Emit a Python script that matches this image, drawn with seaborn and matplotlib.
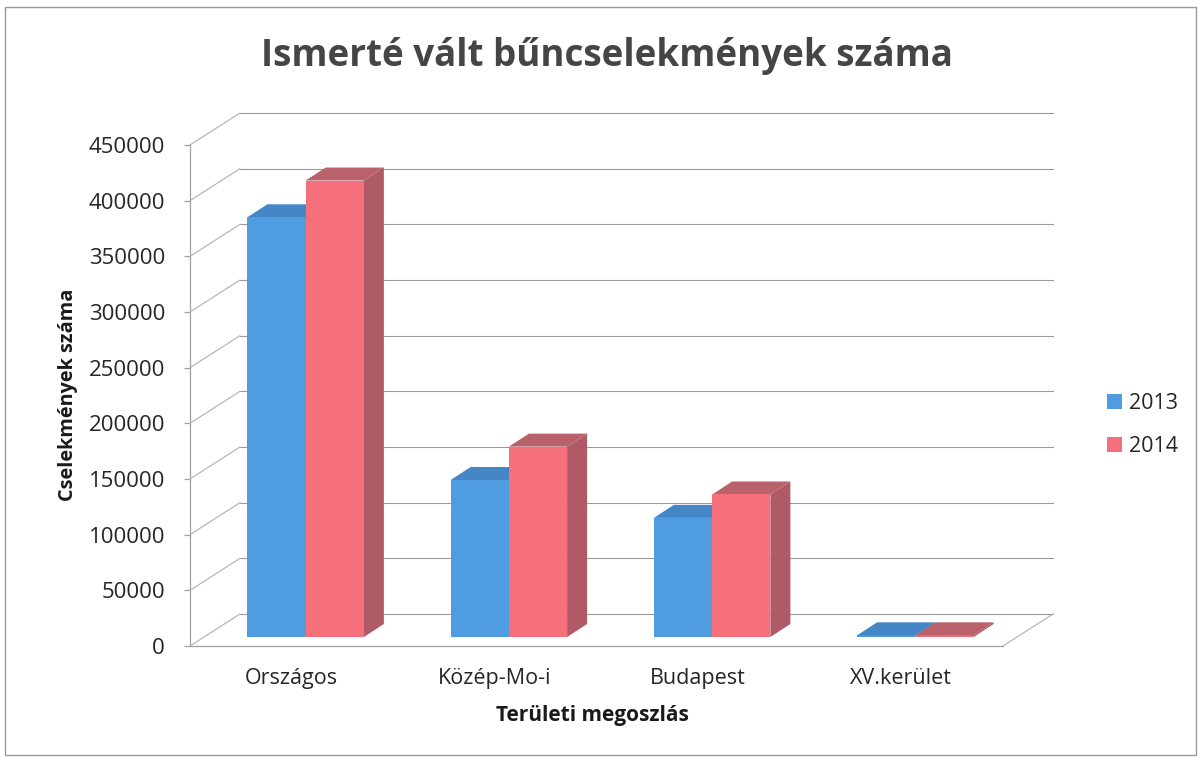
#!/usr/bin/env python

import pandas as pd
import seaborn as sns
import matplotlib.pyplot as plt
from matplotlib.patches import Polygon, Rectangle
from matplotlib.transforms import Affine2D

categories = ['Országos', 'Közép-Mo-i', 'Budapest', 'XV.kerület']
values_2013 = [377000, 141000, 107000, 1500]
values_2014 = [410000, 171000, 128000, 1500]
y_ticks = [0, 50000, 100000, 150000, 200000, 250000, 300000, 350000, 400000, 450000]

W, H = 1202, 758

sns.set_style('white')
plt.rcParams['font.family'] = ['Open Sans', 'DejaVu Sans']

data = pd.DataFrame({
    'terulet': categories * 2,
    'ev': ['2013'] * 4 + ['2014'] * 4,
    'db': values_2013 + values_2014,
})

fig = plt.figure(figsize=(W / 100, H / 100), dpi=100)
ax = fig.add_axes([190 / W, 1 - 646 / H, (1003 - 190) / W, (646 - 145) / H])

sns.barplot(data=data, x='terulet', y='db', hue='ev', ax=ax, width=0.573, gap=0,
            palette={'2013': '#4f9ce0', '2014': '#f5707b'}, saturation=1, zorder=3,
            linewidth=0, edgecolor='none')
ax.set_xlim(-0.5, 3.5)
ax.set_ylim(0, 450000)
ax.patch.set_alpha(0)

# back wall and the diagonal lines, offset from the axes in pixels
wall = Affine2D().translate(50, 32)
for t in y_ticks:
    ax.plot([-0.5, 3.5], [t, t], color='#9a9a9a', lw=0.8, zorder=1, clip_on=False,
            transform=ax.transData + wall)
    p0 = ax.transData.transform((-0.5, t))
    fig.add_artist(plt.Line2D([p0[0], p0[0] + 50], [p0[1], p0[1] + 32], color='#b0b0b0', lw=0.8,
                              transform=None, zorder=1))
p1 = ax.transData.transform((3.5, 0))
fig.add_artist(plt.Line2D([p1[0], p1[0] + 50], [p1[1], p1[1] + 32], color='#b0b0b0', lw=0.8,
                          transform=None, zorder=1))

# bars stand inside the floor, with top and side faces for the 3D look
shift = ax.transData + Affine2D().translate(14, 9)
depth_x, depth_y = 20, 13
faces = {0: ('#4586c6', '#3f7ab5'), 1: ('#b9626c', '#b05a66')}
off = Affine2D().translate(14, 9)
for i, container in enumerate(ax.containers):
    top_color, side_color = faces[i]
    for bar in container:
        bar.set_transform(shift)
        bar.set_clip_on(False)
        x0, x1 = bar.get_x(), bar.get_x() + bar.get_width()
        y1 = bar.get_height()
        a = ax.transData.transform((x0, y1))
        b = ax.transData.transform((x1, y1))
        c = ax.transData.transform((x1, 0))
        top = [a, b, (b[0] + depth_x, b[1] + depth_y), (a[0] + depth_x, a[1] + depth_y)]
        side = [b, c, (c[0] + depth_x, c[1] + depth_y), (b[0] + depth_x, b[1] + depth_y)]
        # XV.kerulet bars are flat, their tops have nothing in front of them
        z = 3.5 + i if y1 < 5000 else 2.9
        ax.add_patch(Polygon(top, closed=True, fc=top_color, ec='none', transform=off,
                             zorder=z, clip_on=False))
        ax.add_patch(Polygon(side, closed=True, fc=side_color, ec='none', transform=off,
                             zorder=2.8, clip_on=False))

sns.despine(ax=ax, top=True, right=True)
for s in ['left', 'bottom']:
    ax.spines[s].set_color('#a0a0a0')
    ax.spines[s].set_linewidth(0.9)

ax.set_yticks(y_ticks)
ax.set_yticklabels([str(t) for t in y_ticks])
ax.tick_params(axis='y', length=4, width=0.9, color='#a0a0a0', labelsize=16, labelcolor='#262626',
               pad=14, left=True)
ax.tick_params(axis='x', length=0, labelsize=15.5, labelcolor='#262626', pad=16)

ax.set_xlabel('')
ax.set_ylabel('')
fig.text(592 / W, 1 - 715 / H, 'Területi megoszlás', fontsize=15, fontweight='bold', color='#1a1a1a',
         ha='center', va='center')
fig.text(68 / W, 1 - 395 / H, 'Cselekmények száma', fontsize=14.3, fontweight='bold', color='#1a1a1a',
         rotation=90, ha='center', va='center')
fig.text(607 / W, 1 - 56 / H, 'Ismerté vált bűncselekmények száma', fontsize=26.5, fontweight='bold',
         color='#454545', ha='center', va='center')

sns.move_legend(ax, loc='center left', bbox_to_anchor=(1088 / W, 1 - 425 / H),
                bbox_transform=fig.transFigure, frameon=False, title=None, fontsize=15.5,
                handlelength=0.7, handleheight=0.7, handletextpad=0.3, labelspacing=1.0)

# outer chart frame
fig.add_artist(Rectangle((5 / W, 1 - 755 / H), 1191 / W, 748 / H, transform=fig.transFigure,
                         fill=False, ec='#9a9a9a', lw=1))

fig.savefig('out.png', dpi=100)
